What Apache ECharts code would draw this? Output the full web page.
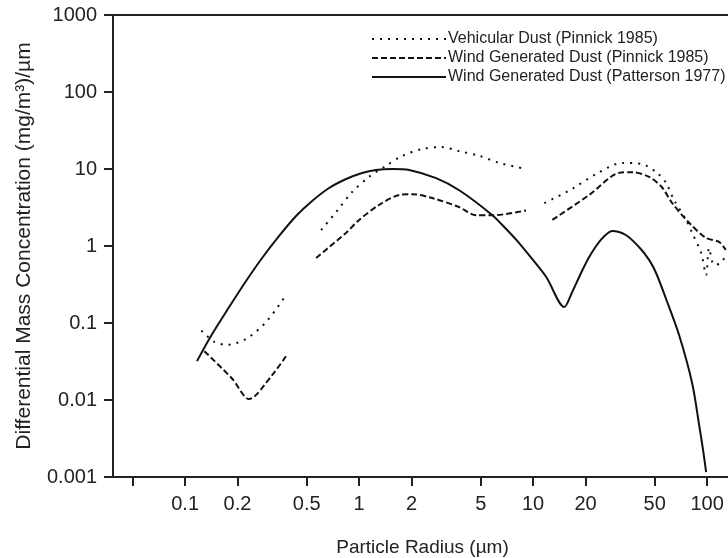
<!DOCTYPE html>
<html>
<head>
<meta charset="utf-8">
<script src="https://cdn.jsdelivr.net/npm/echarts@6.0.0/dist/echarts.min.js"></script>
<style>
  html, body { margin: 0; padding: 0; background: #fff; }
  #chart { width: 728px; height: 558px; }
</style>
</head>
<body>
<div id="chart"></div>
<script>
// tick positions
var xTicks = [0.05, 0.1, 0.2, 0.5, 1, 2, 5, 10, 20, 50, 100]
var xLabels = [0.1, 0.2, 0.5, 1, 2, 5, 10, 20, 50, 100]
var yTicks = [0.001, 0.01, 0.1, 1, 10, 100, 1000]

// Vehicular Dust (Pinnick 1985) - [radius um, concentration]
var vehicular1 = [[0.124, 0.08], [0.147, 0.057], [0.174, 0.052], [0.224, 0.062], [0.292, 0.103], [0.38, 0.23]]
var vehicular2 = [[0.605, 1.61], [0.738, 2.77], [0.91, 5.0], [1.14, 7.9], [1.39, 10.6], [1.77, 14.8], [2.3, 18.2],
  [2.96, 19.3], [3.75, 17.1], [4.9, 14.8], [6.38, 12.0], [9.1, 10.0]]
var vehicular3 = [[11.6, 3.6], [16.7, 5.5], [23.0, 8.6], [32.5, 12.0], [42.3, 11.6], [51.6, 8.9], [58.1, 6.6],
  [64.6, 3.95], [75.7, 2.18], [82, 1.48], [92.4, 0.81], [98.7, 0.42], [102.6, 0.94], [109.6, 0.57], [120, 0.6], [127, 0.74]]

// Wind Generated Dust (Pinnick 1985)
var windPinnick1 = [[0.129, 0.043], [0.186, 0.019], [0.233, 0.0103], [0.233, 0.0103], [0.316, 0.021], [0.38, 0.037]]
var windPinnick2 = [[0.566, 0.7], [0.84, 1.48], [1.0, 2.18], [1.3, 3.41], [1.7, 4.6], [2.02, 4.7], [2.63, 4.2],
  [3.76, 3.2], [4.7, 2.5], [5.8, 2.5], [9.1, 2.9]]
var windPinnick3 = [[12.9, 2.18], [21.0, 4.6], [31.2, 8.9], [37, 9.1], [46.4, 7.9], [55, 5.8], [63, 3.6],
  [78.8, 2.0], [98.7, 1.27], [117, 1.13], [128, 0.89]]

// Wind Generated Dust (Patterson 1977)
var windPatterson = [[0.117, 0.032], [0.143, 0.072], [0.179, 0.161], [0.224, 0.351], [0.277, 0.698],
  [0.347, 1.35], [0.434, 2.45], [0.537, 3.84], [0.672, 5.66], [0.842, 7.41], [1.04, 8.87],
  [1.25, 9.71], [1.55, 10.0], [1.94, 9.7], [2.77, 7.6], [3.76, 5.3], [5.81, 2.53], [7.0, 1.66], [8.31, 1.09],
  [9.87, 0.678], [11.9, 0.395], [15.1, 0.161], [15.1, 0.161], [16.8, 0.255], [18.8, 0.44], [21.0, 0.72],
  [24.5, 1.2], [28.5, 1.57], [34.1, 1.39], [40.6, 0.97], [46.4, 0.66], [50.9, 0.446], [58.1, 0.205], [69, 0.0698],
  [82, 0.0166], [90, 0.00473], [94.8, 0.00224], [98.7, 0.00116]]

// join segments with a gap point so the line breaks
function joinSegments (segs) {
  var out = []
  segs.forEach(function (s, i) {
    if (i > 0) out.push([s[0][0], '-'])
    out = out.concat(s)
  })
  return out
}

var textColor = '#222'
var chart = echarts.init(document.getElementById('chart'), null, { renderer: 'canvas' })

var option = {
  animation: false,
  backgroundColor: '#fff',
  textStyle: { fontFamily: 'Liberation Sans, Arial, sans-serif', color: textColor },
  grid: {
    left: 113, top: 15, right: -4, bottom: 81,
    outerBoundsMode: 'none',
    containLabel: false,
    show: true, borderColor: '#222', borderWidth: 2, backgroundColor: 'transparent'
  },
  legend: {
    orient: 'vertical',
    left: 366, top: 26,
    itemWidth: 74, itemHeight: 16, itemGap: 3,
    itemStyle: { opacity: 0 },
    textStyle: { fontSize: 16, color: textColor, padding: [0, 0, 0, -3] },
    data: ['Vehicular Dust (Pinnick 1985)', 'Wind Generated Dust (Pinnick 1985)', 'Wind Generated Dust (Patterson 1977)']
  },
  xAxis: {
    type: 'log', logBase: 10,
    min: 0.0385, max: 139,
    name: 'Particle Radius (\u00b5m)',
    nameLocation: 'middle', nameGap: 61,
    nameTextStyle: { fontSize: 19, color: textColor },
    axisLine: { lineStyle: { color: '#222', width: 2 } },
    axisTick: { show: true, length: 9, lineStyle: { color: '#222', width: 2 }, customValues: xTicks },
    axisLabel: {
      fontSize: 20, color: textColor, margin: 17, customValues: xLabels,
      formatter: function (v) { return String(+(+v).toPrecision(3)) }
    },
    splitLine: { show: false },
    minorTick: { show: false }
  },
  yAxis: {
    type: 'log', logBase: 10,
    min: 0.001, max: 1000,
    name: 'Differential Mass Concentration (mg/m\u00b3)/\u00b5m',
    nameLocation: 'middle', nameGap: 78,
    nameTextStyle: { fontSize: 21, color: textColor },
    axisLine: { lineStyle: { color: '#222', width: 2 } },
    axisTick: { show: true, length: 9, lineStyle: { color: '#222', width: 2 }, customValues: yTicks },
    axisLabel: {
      fontSize: 20, color: textColor, margin: 16, customValues: yTicks,
      formatter: function (v) { return String(+(+v).toPrecision(3)) }
    },
    splitLine: { show: false }
  },
  series: [
    {
      name: 'Vehicular Dust (Pinnick 1985)',
      type: 'line', symbol: 'none', smooth: 0.3, connectNulls: false,
      lineStyle: { color: '#111', width: 2, type: [2, 6] },
      itemStyle: { color: '#111' },
      data: joinSegments([vehicular1, vehicular2, vehicular3])
    },
    {
      name: 'Wind Generated Dust (Pinnick 1985)',
      type: 'line', symbol: 'none', smooth: 0.3, connectNulls: false,
      lineStyle: { color: '#111', width: 2, type: [6, 3] },
      itemStyle: { color: '#111' },
      data: joinSegments([windPinnick1, windPinnick2, windPinnick3])
    },
    {
      name: 'Wind Generated Dust (Patterson 1977)',
      type: 'line', symbol: 'none', smooth: 0.3,
      lineStyle: { color: '#111', width: 2, type: 'solid' },
      itemStyle: { color: '#111' },
      data: windPatterson
    }
  ]
}

chart.setOption(option)
</script>
</body>
</html>
